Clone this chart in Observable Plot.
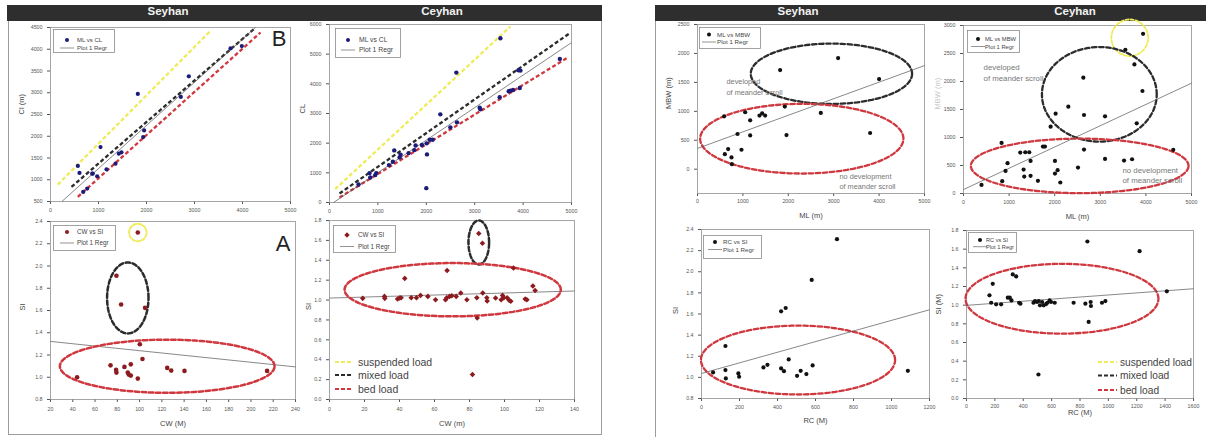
<!DOCTYPE html>
<html><head><meta charset="utf-8">
<script src="https://cdn.jsdelivr.net/npm/d3@7"></script>
<script src="https://cdn.jsdelivr.net/npm/@observablehq/plot@0.6"></script>
<style>
body{margin:0;background:#fff;font-family:"Liberation Sans",Arial,Helvetica,sans-serif;}
#root{position:relative;width:1206px;height:437px;overflow:hidden;background:#fff;}
</style></head><body><div id="root"></div>
<script>
// ---------------- DATA ----------------
// Left figure, top: Seyhan ML vs CL
const seyML_CL_x = [570,604,681,764,868,882,972,1042,1167,1354,1424,1479,1819,1931,1951,2715,2882,3750,3986];
const seyML_CL_y = [1317,1156,721,798,1140,1141,1080,1752,1240,1370,1599,1630,2973,1981,2134,2905,3378,4019,4073];
const seyLoadLines = [
  {load:"suspended", x1:153, y1:889, x2:3319, y2:4408},
  {load:"mixed", x1:437, y1:836, x2:4236, y2:4462},
  {load:"bed", x1:569, y1:607, x2:4375, y2:4385}
];
const seyCLRegr = {x1:240, y1:503, x2:4270, y2:4500};
// Left figure, top: Ceyhan ML vs CL
const ceyML_CL_x = [600,828,841,945,966,1228,1310,1338,1448,1469,1634,1779,1752,1910,2007,2069,2131,2014,2000,2290,2497,2621,2634,3103,3117,3517,3531,3703,3738,3793,3903,3945,3931,4759];
const ceyML_CL_y = [608,991,844,923,991,1261,1373,1756,1520,1610,1666,1925,1767,1936,1993,2116,2116,1621,484,2972,2533,4379,2702,3197,3141,3546,5538,3749,3771,3794,4458,4446,3861,4841];
const ceyLoadLines = [
  {load:"suspended", x1:117, y1:450, x2:3738, y2:5932},
  {load:"mixed", x1:207, y1:304, x2:4945, y2:5685},
  {load:"bed", x1:207, y1:169, x2:4910, y2:4874}
];
const ceyCLRegr = {x1:83, y1:0, x2:5000, y2:5390};
// Left figure, bottom: Seyhan CW vs SI
const seyCW = [43.9,73.9,78.9,79.2,86.4,89.4,90.3,92.1,92.1,98.4,100.2,102.6,124.8,128.4,140.3,214.5,79.2,83.4,104.9,98.4];
const seySI = [1.00,1.107,1.066,1.042,1.093,1.042,1.024,1.015,1.116,0.988,1.296,1.164,1.084,1.060,1.057,1.057,1.913,1.654,1.624,2.301];
const seyCWRegr = {x1:20, y1:1.322, x2:240, y2:1.093};
const seyCWEllipses = [
  {load:"suspended", cx:98.4, cy:2.301, rx:7.8, ry:0.078},
  {load:"mixed", cx:89.4, cy:1.713, rx:18.6, ry:0.319},
  {load:"bed", cx:124.8, cy:1.099, rx:96.4, ry:0.239}
];
// Left figure, bottom: Ceyhan CW vs SI
const ceyCW = [19.0,31.4,31.6,38.9,40.0,40.9,43.0,46.7,49.7,52.0,56.2,60.6,66.3,67.0,67.2,68.6,69.9,72.4,75.0,78.5,84.2,84.4,85.3,87.4,87.6,89.9,90.1,94.9,98.1,98.9,99.6,101.5,102.7,103.6,105.1,111.8,112.8,116.2,117.5,81.7];
const ceySI = [1.017,1.037,1.017,1.010,1.020,1.024,1.218,1.024,1.024,1.047,1.037,1.004,1.004,1.024,1.298,1.037,1.044,1.037,1.071,1.004,1.024,0.820,1.669,1.572,1.071,1.024,0.990,1.020,1.004,1.047,1.024,1.024,0.997,0.987,1.322,1.010,1.004,1.141,1.097,0.251];
const ceyCWRegr = {x1:0, y1:1.020, x2:140, y2:1.091};
const ceyCWEllipses = [
  {load:"mixed", cx:85.3, cy:1.579, rx:5.9, ry:0.221},
  {load:"bed", cx:70.4, cy:1.104, rx:61.8, ry:0.268}
];
// Right figure, top: Seyhan ML vs MBW
const seyML_MBW_x = [587,602,675,749,756,881,969,1050,1160,1160,1365,1424,1490,1820,1923,1960,2716,3097,3802,4000];
const seyML_MBW_y = [914,260,347,203,87,608,336,984,845,584,926,966,926,1713,1082,590,972,1920,625,1557];
const seyMBWRegr = {x1:0, y1:359, x2:5000, y2:1790};
const seyMBWEllipses = [
  {load:"mixed", cx:2950, cy:1649, rx:1777, ry:521},
  {load:"bed", cx:2297, cy:527, rx:2239, ry:602}
];
// Right figure, top: Ceyhan ML vs MBW
const ceyML_MBW_x = [395,835,849,922,966,1245,1318,1332,1354,1442,1471,1471,1632,1742,1786,1911,2006,2006,2020,2064,2123,2299,2511,2628,2643,2643,3104,3104,3521,3550,3697,3748,3799,3924,3938,4600];
const ceyML_MBW_y = [154,903,220,404,541,731,428,303,737,737,582,315,226,838,838,1194,582,356,1426,416,196,1551,463,2068,1402,784,1379,618,588,2567,612,2305,1254,1830,2852,780];
const ceyMBWRegr = {x1:0, y1:71, x2:5000, y2:1970};
const ceyMBWEllipses = [
  {load:"suspended", cx:3646, cy:2781, rx:403, ry:327},
  {load:"mixed", cx:2979, cy:1771, rx:1259, ry:844},
  {load:"bed", cx:2548, cy:493, rx:2387, ry:487}
];
// Right figure, bottom: Seyhan RC vs SI
const seyRC = [61,126,126,128,194,198,326,347,419,443,419,434,459,503,522,552,585,580,713,1086];
const seySI_RC = [1.047,1.297,1.069,0.990,1.037,1.006,1.094,1.119,1.625,1.657,1.085,1.059,1.170,1.015,1.062,1.031,1.113,1.923,2.308,1.062];
const seyRCRegr = {x1:0, y1:1.037, x2:1200, y2:1.64};
const seyRCEllipses = [{load:"bed", cx:508, cy:1.164, rx:511, ry:0.326}];
// Right figure, bottom: Ceyhan RC vs SI
const ceyRC = [162,185,174,209,244,291,305,317,326,350,371,380,472,483,497,509,518,533,544,561,570,586,596,622,755,838,852,861,875,877,955,979,1220,1412,507];
const ceySI_RC = [1.105,1.229,1.026,1.009,1.009,1.080,1.080,1.051,1.329,1.308,1.026,1.016,1.026,1.044,1.034,1.044,0.998,1.034,0.998,1.012,1.026,1.051,1.034,1.026,1.026,1.016,1.682,0.820,1.034,0.991,1.026,1.044,1.579,1.148,0.257];
const ceyRCRegr = {x1:0, y1:0.998, x2:1600, y2:1.176};
const ceyRCEllipses = [{load:"bed", cx:673, cy:1.069, rx:680, ry:0.374}];

const loadNames = ["suspended load","mixed load","bed load"];
const scrollNotes = ["developed\nof meander scroll","no development\nof meander scroll"];

// ---------------- STYLE ----------------
const FONT = "'Liberation Sans', Arial, Helvetica, sans-serif";
const LOADCOL = {suspended:"#f0eb58", mixed:"#2c2c2c", bed:"#d0383f"};
const NAVY = "#1b1b7a", DKRED = "#8c1b1f", BLK = "#111";
const root = document.getElementById("root");

function el(css, html){ const e=document.createElement("div"); e.style.cssText="position:absolute;"+css; if(html!=null) e.innerHTML=html; root.appendChild(e); return e; }

function ellipsePts(e){
  return d3.range(0, 97).map(i => { const a = i/96*2*Math.PI; return {x:e.cx+e.rx*Math.cos(a), y:e.cy+e.ry*Math.sin(a)}; });
}
function ellipseMarks(list, sw){
  return list.map(e => Plot.line(ellipsePts(e), {x:"x", y:"y", stroke:LOADCOL[e.load], strokeWidth: e.load==="suspended"? sw*0.8 : sw, strokeDasharray: e.load==="suspended" ? "3,2" : "4.5,2.6"}));
}
function loadLineMarks(list){
  return list.map(d => Plot.link([d], {x1:"x1", y1:"y1", x2:"x2", y2:"y2", stroke:LOADCOL[d.load], strokeWidth:2.3, strokeDasharray:"4,2.4"}));
}
function regrMark(r){ return Plot.link([r], {x1:"x1", y1:"y1", x2:"x2", y2:"y2", stroke:"#555", strokeWidth:0.7}); }

frameFig();
function frameFig(){
  el("left:8px;top:5px;width:594px;height:430px;border:1px solid #9c9c9c;box-sizing:border-box;");
  el("left:655px;top:5px;width:600px;height:460px;border:1px solid #9c9c9c;box-sizing:border-box;");
  el("left:7px;top:5px;width:595px;height:16px;background:#2e2e2e;");
  el("left:655px;top:5px;width:551px;height:16px;background:#2e2e2e;");
  [["Seyhan",168],["Ceyhan",442],["Seyhan",798],["Ceyhan",1075]].forEach(([t,x]) =>
    el(`left:${x-60}px;top:5px;width:120px;height:16px;line-height:16px;text-align:center;color:#f2f2f2;font:bold 11.5px ${FONT};`, t));
}

function makePanel(c){
  const [l,t,r,b] = c.box;
  const ml=42, mr=14, mt=8, mb=34;
  const w = r-l+ml+mr, h = b-t+mt+mb;
  const marks = [
    Plot.frame({stroke:"#8f8f8f", strokeWidth:0.8}),
    ...c.marks
  ];
  if (c.ytitle) marks.push(Plot.text([c.ytitle], {text:d=>d, frameAnchor:"left", rotate:-90, dx:c.ytdx, fontSize:7.5, fill:c.ytcol||"#444"}));
  if (c.xtitle) marks.push(Plot.text([c.xtitle], {text:d=>d, frameAnchor:"bottom", dy:c.xtdy, fontSize:7.5, fill:"#444"}));
  const svg = Plot.plot({
    width:w, height:h, marginLeft:ml, marginRight:mr, marginTop:mt, marginBottom:mb,
    style:{background:"transparent", fontSize:"5.3px", color:"#555", fontFamily:FONT, overflow:"visible"},
    x:{domain:c.xd, ticks:c.xt, tickSize:3, tickPadding:c.xPad, tickFormat:c.xf||d3.format("d"), label:null},
    y:{domain:c.yd, ticks:c.yt, tickSize:3, tickPadding:c.yPad||4, tickFormat:c.yf||d3.format("d"), label:null},
    marks
  });
  const d = el(`left:${l-ml}px;top:${t-mt}px;width:${w}px;height:${h}px;`);
  d.appendChild(svg);
}

const f1 = d3.format(".1f");
const range = (a,b,s) => d3.range(a, b+s/2, s);

// Panel 1: Seyhan ML vs CL
makePanel({box:[50,27,290,201], xd:[0,5000], yd:[500,4500], xt:range(0,5000,1000), yt:range(500,4500,500), xPad:4, yPad:5, ytitle:"Cl (m)", ytdx:-29,
  marks:[...loadLineMarks(seyLoadLines), regrMark(seyCLRegr),
    Plot.dot(seyML_CL_y, {x:seyML_CL_x, y:seyML_CL_y, r:2.1, fill:NAVY}),
    Plot.text(["B"], {text:d=>d, frameAnchor:"top-right", dx:-4, dy:3, lineAnchor:"top", textAnchor:"end", fontSize:22, fill:"#222"})]});
// Panel 2: Ceyhan ML vs CL
makePanel({box:[329,24,571,202], xd:[0,5000], yd:[0,6000], xt:range(0,5000,1000), yt:range(0,6000,1000), xPad:4, yPad:5, ytitle:"CL", ytdx:-27,
  marks:[...loadLineMarks(ceyLoadLines), regrMark(ceyCLRegr),
    Plot.dot(ceyML_CL_y, {x:ceyML_CL_x, y:ceyML_CL_y, r:2.2, fill:NAVY})]});
// Panel 3: Seyhan CW vs SI
makePanel({box:[50,221,295,399], xd:[20,240], yd:[0.8,2.4], xt:range(20,240,20), yt:range(0.8,2.4,0.2), yf:f1, xPad:5, yPad:5, ytitle:"SI", ytdx:-28, xtitle:"CW (M)", xtdy:26,
  marks:[regrMark(seyCWRegr), ...ellipseMarks(seyCWEllipses, 2.5),
    Plot.dot(seySI, {x:seyCW, y:seySI, r:2.3, fill:DKRED}),
    Plot.text(["A"], {text:d=>d, frameAnchor:"top-right", dx:-5, dy:14, lineAnchor:"top", textAnchor:"end", fontSize:22, fill:"#222"})]});
// Panel 4: Ceyhan CW vs SI
makePanel({box:[329,220,574,399], xd:[0,140], yd:[0,1.8], xt:range(0,140,20), yt:range(0,1.8,0.2), yf:f1, xPad:5, yPad:5, ytitle:"SI", ytdx:-21, xtitle:"CW (m)", xtdy:26,
  marks:[regrMark(ceyCWRegr), ...ellipseMarks(ceyCWEllipses, 2.5),
    Plot.dot(ceySI, {x:ceyCW, y:ceySI, r:2.5, symbol:"diamond2", fill:DKRED})]});
// Panel 5: Seyhan ML vs MBW
makePanel({box:[697,24,924,193], xd:[0,5000], yd:[-420,2500], xt:range(0,5000,1000), yt:range(0,2500,500), xPad:2.5, yPad:5, ytitle:"MBW (m)", ytdx:-29, xtitle:"ML (m)", xtdy:24,
  marks:[...ellipseMarks(seyMBWEllipses, 2.3), regrMark(seyMBWRegr),
    Plot.dot(seyML_MBW_y, {x:seyML_MBW_x, y:seyML_MBW_y, r:2.1, fill:BLK}),
    Plot.text([scrollNotes[0]], {text:d=>d, x:[640], y:[1437], textAnchor:"start", lineHeight:1.45, fontSize:7.3, fill:"#777"}),
    Plot.text([scrollNotes[1]], {text:d=>d, x:[3128], y:[-195], textAnchor:"start", lineHeight:1.45, fontSize:7.3, fill:"#777"})]});
// Panel 6: Ceyhan ML vs MBW
makePanel({box:[963,25,1191,193], xd:[0,5000], yd:[0,3000], xt:range(0,5000,1000), yt:range(0,3000,500), xPad:4, yPad:5, ytitle:"MBW (m)", ytdx:-26, ytcol:"#c8c8c8", xtitle:"ML (m)", xtdy:25,
  marks:[...ellipseMarks(ceyMBWEllipses, 2.3), regrMark(ceyMBWRegr),
    Plot.dot(ceyML_MBW_y, {x:ceyML_MBW_x, y:ceyML_MBW_y, r:2.1, fill:BLK}),
    Plot.text([scrollNotes[0]], {text:d=>d, x:[440], y:[2170], textAnchor:"start", lineHeight:1.4, fontSize:7.8, fill:"#777"}),
    Plot.text([scrollNotes[1]], {text:d=>d, x:[3487], y:[339], textAnchor:"start", lineHeight:1.4, fontSize:7.8, fill:"#777"})]});
// Panel 7: Seyhan RC vs SI
makePanel({box:[701,229,929,398], xd:[0,1200], yd:[0.8,2.4], xt:range(0,1200,200), yt:range(0.8,2.4,0.2), yf:f1, xPad:3.5, yPad:5, ytitle:"SI", ytdx:-26, xtitle:"RC (M)", xtdy:24,
  marks:[...ellipseMarks(seyRCEllipses, 2.3), regrMark(seyRCRegr),
    Plot.dot(seySI_RC, {x:seyRC, y:seySI_RC, r:2.1, fill:BLK})]});
// Panel 8: Ceyhan RC vs SI
makePanel({box:[966,230,1193,398], xd:[0,1600], yd:[0,1.8], xt:range(0,1600,200), yt:range(0,1.8,0.2), yf:f1, xPad:3, yPad:5, ytitle:"SI (M)", ytdx:-28, xtitle:"RC (M)", xtdy:16,
  marks:[...ellipseMarks(ceyRCEllipses, 2.3), regrMark(ceyRCRegr),
    Plot.dot(ceySI_RC, {x:ceyRC, y:ceySI_RC, r:2.1, fill:BLK})]});

// ---------------- LEGENDS ----------------
function smallLegend(o){
  const {left, top, w, h, label, color, symbol, fs, mx, tx, r1, r2} = o;
  const sym = symbol==="diamond"
    ? `<path d="M${mx},${r1-2.7}L${mx+2.7},${r1}L${mx},${r1+2.7}L${mx-2.7},${r1}Z" fill="${color}"/>`
    : `<circle cx="${mx}" cy="${r1}" r="2" fill="${color}"/>`;
  const txt = (s,y) => `<text x="${tx}" y="${y}" dy="0.35em" font-size="${fs}" fill="#444" font-family="${FONT}">${s}</text>`;
  el(`left:${left}px;top:${top}px;width:${w}px;height:${h}px;`,
    `<svg width="${w}" height="${h}" style="display:block"><rect x="0.5" y="0.5" width="${w-1}" height="${h-1}" fill="#fff" stroke="#8a8a8a" stroke-width="0.8"/>${sym}<line x1="${mx-7}" x2="${mx+7}" y1="${r2}" y2="${r2}" stroke="#666" stroke-width="0.7"/>${txt(label,r1)}${txt("Plot 1 Regr",r2)}</svg>`);
}
smallLegend({left:53, top:29, w:62, h:24, label:"ML vs CL", color:NAVY, fs:6, mx:14, tx:24, r1:11, r2:19});
smallLegend({left:335, top:28, w:66, h:30, label:"ML vs CL", color:NAVY, fs:6.8, mx:13, tx:24, r1:12, r2:22});
smallLegend({left:53, top:225, w:63, h:26, label:"CW vs SI", color:DKRED, fs:6.3, mx:14, tx:24, r1:7, r2:18});
smallLegend({left:333, top:225, w:63, h:28, label:"CW vs SI", color:DKRED, symbol:"diamond", fs:6.3, mx:14, tx:25, r1:10, r2:21.5});
smallLegend({left:699, top:27, w:62, h:22, label:"ML vs MBW", color:BLK, fs:6.2, mx:10, tx:18, r1:7.5, r2:15});
smallLegend({left:967, top:30, w:53, h:23, label:"ML vs MBW", color:BLK, fs:5.8, mx:11, tx:18, r1:9, r2:16.5});
smallLegend({left:703, top:235, w:59, h:24, label:"RC vs SI", color:BLK, fs:6.2, mx:12, tx:20, r1:7, r2:14.5});
smallLegend({left:968, top:232, w:49, h:21, label:"RC vs SI", color:BLK, fs:5.6, mx:12, tx:18, r1:8, r2:14.7});

function loadLegend(o){
  const {left, top, fs, lw, tx, rows} = o;
  const keys = ["suspended","mixed","bed"];
  let s = "";
  keys.forEach((k,i) => {
    s += `<line x1="0" x2="${lw}" y1="${rows[i]}" y2="${rows[i]}" stroke="${LOADCOL[k]}" stroke-width="2" stroke-dasharray="4,2"/>`;
    s += `<text x="${tx}" y="${rows[i]}" dy="0.35em" font-size="${fs}" fill="#444" font-family="${FONT}">${loadNames[i]}</text>`;
  });
  el(`left:${left}px;top:${top}px;width:100px;height:42px;`, `<svg width="100" height="42" style="display:block">${s}</svg>`);
}
loadLegend({left:335, top:354, fs:10.5, lw:18, tx:23, rows:[8,21,35]});
loadLegend({left:1098, top:354, fs:10.2, lw:19, tx:22, rows:[8,21.5,36]});
</script></body></html>
